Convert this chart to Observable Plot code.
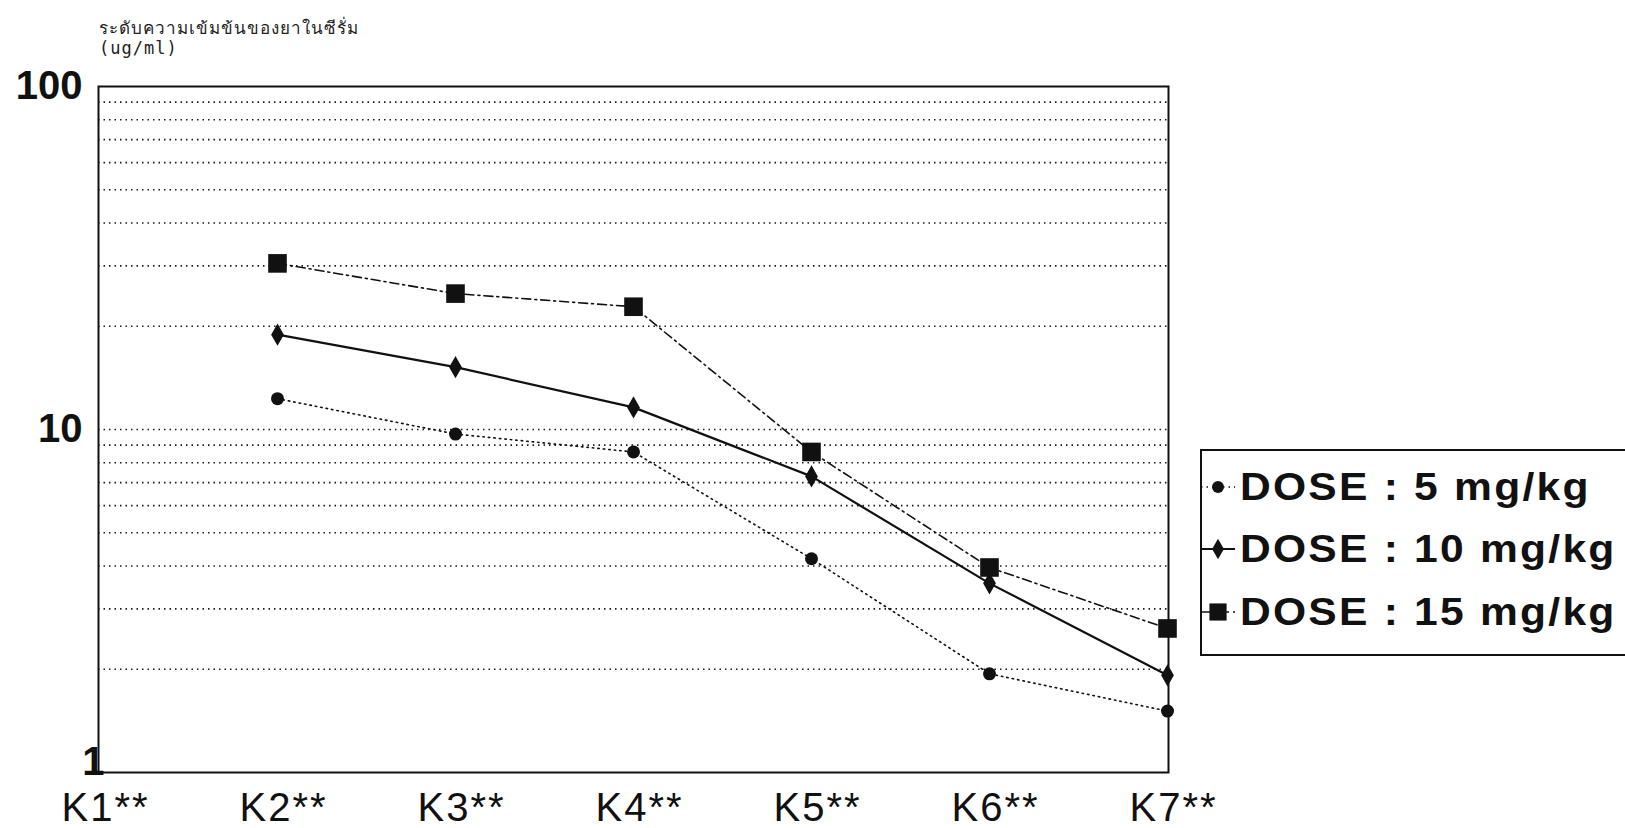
<!DOCTYPE html>
<html><head><meta charset="utf-8">
<script src="https://cdn.jsdelivr.net/npm/d3@7"></script>
<script src="https://cdn.jsdelivr.net/npm/@observablehq/plot@0.6"></script>
<style>
html,body{margin:0;padding:0;background:#fff;}
#wrap{position:relative;width:1625px;height:828px;overflow:hidden;background:#fff;}
#title{position:absolute;left:99px;top:18px;font-family:"DejaVu Sans Mono","Liberation Mono",monospace;font-size:17px;line-height:20px;color:#222;letter-spacing:1px;white-space:pre;}
#legend{position:absolute;left:1200px;top:449px;width:430px;height:207px;border:2px solid #111;box-sizing:border-box;}
.lrow{position:absolute;left:1240px;font-family:"Liberation Sans",Arial,sans-serif;font-weight:bold;font-size:38px;line-height:38px;letter-spacing:2px;color:#111;white-space:pre;transform:scaleX(1.12);transform-origin:0 0;}
.lsym{position:absolute;left:1198px;}
g[aria-label="x-axis tick label"] text{letter-spacing:2px;}
</style>
</head><body>
<div id="wrap">
  <div id="chart"></div>
  <div id="title"></div>
  <div id="legend"></div>
</div>
<script>
// ---- data ----
const categories = ["K1**","K2**","K3**","K4**","K5**","K6**","K7**"];
const seriesNames = ["DOSE : 5 mg/kg","DOSE : 10 mg/kg","DOSE : 15 mg/kg"];
const dose5  = [null, 12.3, 9.7, 8.6, 4.2, 1.94, 1.51];
const dose10 = [null, 18.9, 15.2, 11.6, 7.3, 3.56, 1.92];
const dose15 = [null, 30.5, 24.9, 22.8, 8.6, 3.96, 2.63];
const yTicksUpper = [10, 100];
const yTicksBottom = [1];
const gridValues = [2,3,4,5,6,7,8,9,10,20,30,40,50,60,70,80,90];
const titleLines = ["ระดับความเข้มข้นของยาในซีรั่ม", "(ug/ml)"];

// ---- styles (not data) ----
const seriesStyle = [
  {dash:"1.5,4", width:1.6, symbol:"circle", r:6.5},
  {dash:null, width:2.2, symbol:"diamond", r:6.7},
  {dash:"9,4,2,4", width:1.6, symbol:"square", r:10.5}
];
const font = "'Liberation Sans', Arial, sans-serif";

const rows = [];
[dose5, dose10, dose15].forEach((vals, si) => vals.forEach((v, i) => {
  if (v != null) rows.push({series: seriesNames[si], cat: categories[i], value: v});
}));

const marks = [
  Plot.ruleY(gridValues, {stroke:"#1a1a1a", strokeWidth:1.7, strokeDasharray:"1.5,4"}),
  Plot.frame({stroke:"#111", strokeWidth:2}),
  Plot.axisX({tickSize:0, tickPadding:20, fontSize:40, dx:6, label:null, fontFamily:font}),
  Plot.axisY({ticks:yTicksUpper, tickSize:0, tickPadding:16, fontSize:40, fontWeight:"bold", tickFormat:d => String(d), label:null, fontFamily:font}),
  Plot.axisY({ticks:yTicksBottom, tickSize:0, tickPadding:4, dx:10, dy:-10, fontSize:40, fontWeight:"bold", tickFormat:d => String(d), label:null, fontFamily:font})
];
seriesNames.forEach((name, si) => {
  const st = seriesStyle[si];
  marks.push(Plot.line(rows, {filter:d => d.series === name, x:"cat", y:"value", stroke:"#111", strokeWidth:st.width, strokeDasharray:st.dash}));
  marks.push(Plot.dot(rows, {filter:d => d.series === name, x:"cat", y:"value", symbol:st.symbol, r:st.r, fill:"#111", stroke:"none"}));
});

const chart = Plot.plot({
  width:1625, height:828,
  marginLeft:98, marginRight:457, marginTop:86, marginBottom:56,
  style:{background:"transparent", color:"#111", overflow:"visible"},
  x:{type:"point", domain:categories, padding:0, label:null},
  y:{type:"log", domain:[1,100], label:null},
  marks
});
document.getElementById("chart").appendChild(chart);

// title
document.getElementById("title").textContent = titleLines.join("\n");

// legend
const wrap = d3.select("#wrap");
const baselines = [500, 562, 625];
seriesNames.forEach((name, si) => {
  const st = seriesStyle[si];
  const b = baselines[si];
  wrap.append("div").attr("class","lrow").style("top", (b - 32) + "px").text(name);
  const cy = b - 13;
  const svg = wrap.append("svg").attr("class","lsym").attr("width",42).attr("height",40)
    .style("top", (cy - 20) + "px");
  svg.append("line").attr("x1",3).attr("x2",37).attr("y1",20).attr("y2",20)
    .attr("stroke","#111").attr("stroke-width",st.width).attr("stroke-dasharray",st.dash);
  const sym = {circle:d3.symbolCircle, diamond:d3.symbolDiamond, square:d3.symbolSquare}[st.symbol];
  svg.append("path").attr("transform","translate(20,20)")
    .attr("d", d3.symbol(sym, Math.PI * st.r * st.r * 0.85)()).attr("fill","#111");
});
</script>
</body></html>
